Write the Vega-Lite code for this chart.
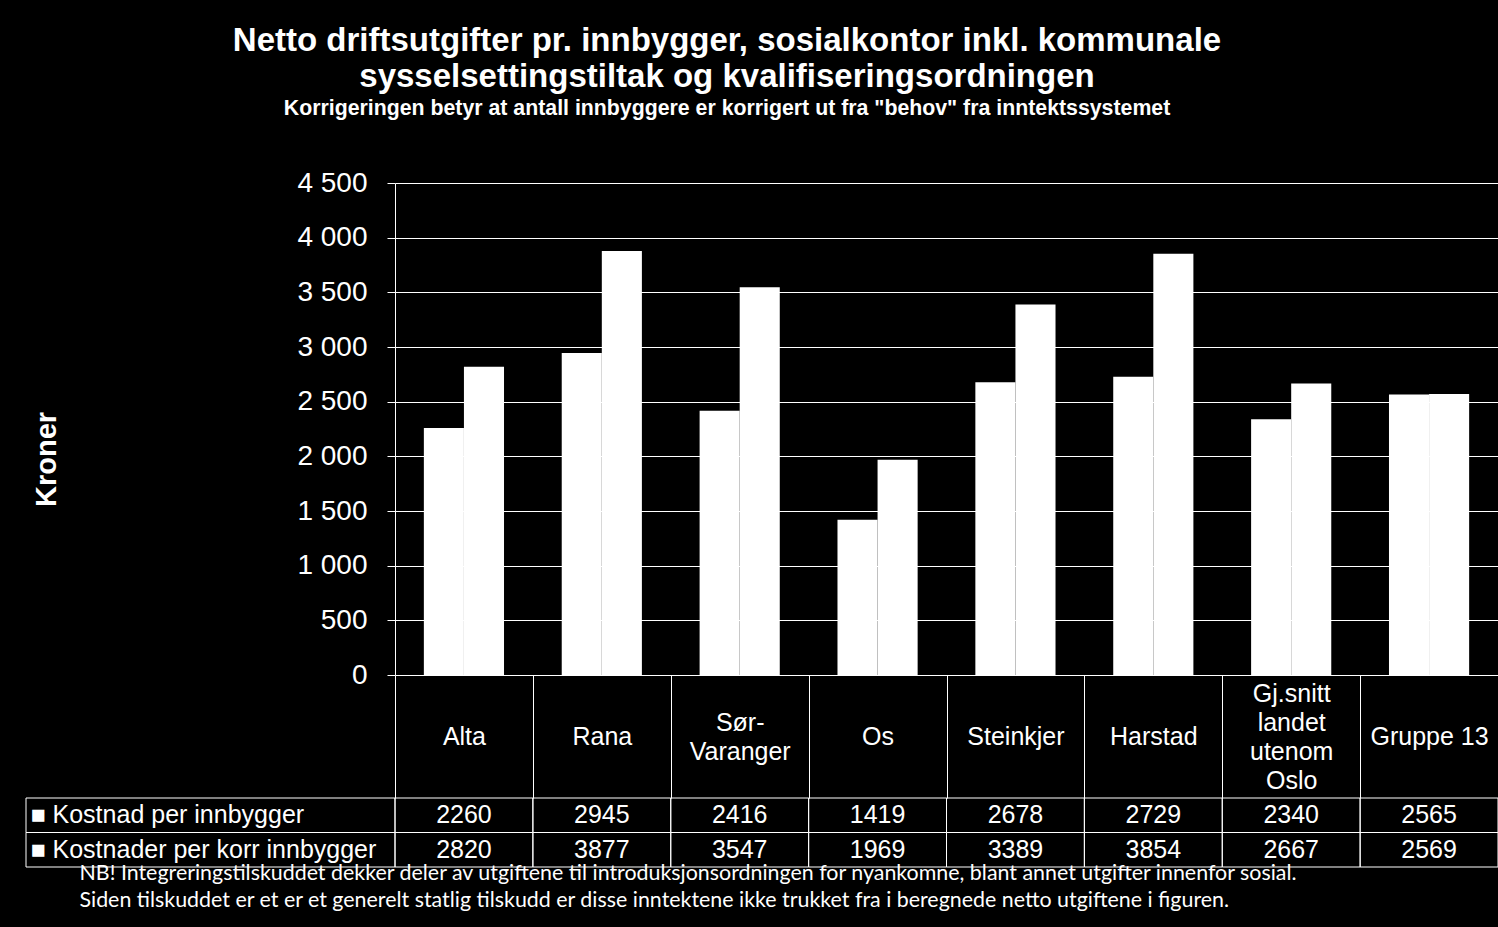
{
  "$schema": "https://vega.github.io/schema/vega-lite/v6.json",
  "background": "black",
  "padding": {"left": 25, "top": 24, "right": 0, "bottom": 18},
  "title": {
    "text": ["Netto driftsutgifter pr. innbygger, sosialkontor inkl. kommunale", "sysselsettingstiltak og kvalifiseringsordningen"],
    "subtitle": "Korrigeringen betyr at antall innbyggere er korrigert ut fra \"behov\" fra inntektssystemet",
    "color": "white",
    "subtitleColor": "white",
    "font": "Liberation Sans",
    "subtitleFont": "Liberation Sans",
    "fontSize": 33,
    "lineHeight": 36,
    "fontWeight": "bold",
    "subtitleFontSize": 21.3,
    "subtitleFontWeight": "bold",
    "subtitlePadding": 4,
    "anchor": "middle",
    "dx": -35,
    "offset": 50
  },
  "data": {
    "values": [
      {"kommune": "Alta", "serie": "Kostnad per innbygger", "verdi": 2260},
      {"kommune": "Rana", "serie": "Kostnad per innbygger", "verdi": 2945},
      {"kommune": "Sør-Varanger", "serie": "Kostnad per innbygger", "verdi": 2416},
      {"kommune": "Os", "serie": "Kostnad per innbygger", "verdi": 1419},
      {"kommune": "Steinkjer", "serie": "Kostnad per innbygger", "verdi": 2678},
      {"kommune": "Harstad", "serie": "Kostnad per innbygger", "verdi": 2729},
      {"kommune": "Gj.snitt landet utenom Oslo", "serie": "Kostnad per innbygger", "verdi": 2340},
      {"kommune": "Gruppe 13", "serie": "Kostnad per innbygger", "verdi": 2565},
      {"kommune": "Alta", "serie": "Kostnader per  korr innbygger", "verdi": 2820},
      {"kommune": "Rana", "serie": "Kostnader per  korr innbygger", "verdi": 3877},
      {"kommune": "Sør-Varanger", "serie": "Kostnader per  korr innbygger", "verdi": 3547},
      {"kommune": "Os", "serie": "Kostnader per  korr innbygger", "verdi": 1969},
      {"kommune": "Steinkjer", "serie": "Kostnader per  korr innbygger", "verdi": 3389},
      {"kommune": "Harstad", "serie": "Kostnader per  korr innbygger", "verdi": 3854},
      {"kommune": "Gj.snitt landet utenom Oslo", "serie": "Kostnader per  korr innbygger", "verdi": 2667},
      {"kommune": "Gruppe 13", "serie": "Kostnader per  korr innbygger", "verdi": 2569}
    ]
  },
  "columns": 2,
  "bounds": "flush",
  "spacing": {"row": 123, "column": 0},
  "concat": [
    {
      "width": 369,
      "height": 492,
      "data": {"values": []},
      "mark": "point"
    },
    {
      "width": 1103,
      "height": 492,
      "mark": {"type": "bar", "color": "white"},
      "encoding": {
        "x": {
          "field": "kommune", "type": "nominal", "sort": null,
          "scale": {"paddingInner": 0, "paddingOuter": 0},
          "axis": {
            "title": null, "tickBand": "extent", "tickSize": 123, "tickColor": "white", "tickWidth": 1,
            "domainColor": "white", "domainWidth": 1, "labelAngle": 0, "labelBaseline": "middle",
            "labelPadding": -105, "labelFontSize": 25, "labelColor": "white", "labelLineHeight": 14.5,
            "labelLimit": 0, "labelFont": "Liberation Sans",
            "labelExpr": "datum.label == 'Sør-Varanger' ? ['\u2800', '\u2800', 'Sør-', '\u2800', 'Varanger'] : datum.label == 'Gj.snitt landet utenom Oslo' ? ['Gj.snitt', '\u2800', 'landet', '\u2800', 'utenom', '\u2800', 'Oslo'] : ['\u2800', '\u2800', '\u2800', datum.label]"
          }
        },
        "xOffset": {
          "field": "serie", "type": "nominal", "sort": null,
          "scale": {"paddingInner": 0, "paddingOuter": 0.72}
        },
        "y": {
          "field": "verdi", "type": "quantitative",
          "scale": {"domain": [0, 4500], "nice": false},
          "axis": {
            "values": [0, 500, 1000, 1500, 2000, 2500, 3000, 3500, 4000, 4500],
            "labelExpr": "replace(format(datum.value, ','), ',', ' ')",
            "grid": true, "gridColor": "white", "gridOpacity": 1, "gridWidth": 1,
            "tickSize": 8, "tickColor": "white", "domainColor": "white",
            "labelPadding": 20, "labelFontSize": 28, "labelColor": "white", "labelFont": "Liberation Sans",
            "title": "Kroner", "titleX": -349, "titleY": 276, "titleAngle": 270,
            "titleAlign": "center", "titleBaseline": "middle", "titleFontSize": 29,
            "titleFontWeight": "bold", "titleColor": "white", "titleFont": "Liberation Sans"
          }
        }
      }
    },
    {
      "width": 369,
      "height": 69,
      "transform": [{"filter": "datum.kommune === 'Alta'"}],
      "mark": {"type": "rect", "fillOpacity": 0, "stroke": "white", "strokeWidth": 1},
      "encoding": {
        "y": {
          "field": "serie", "type": "nominal", "sort": null,
          "scale": {"paddingInner": 0, "paddingOuter": 0},
          "axis": {
            "title": null, "domain": false, "ticks": false, "tickSize": 0,
            "labelAlign": "left", "labelPadding": -4, "labelFontSize": 25, "labelColor": "white",
            "labelFont": "Liberation Sans", "labelLimit": 0, "zindex": 1,
            "labelExpr": "'■ ' + datum.label"
          }
        },
        "x": {"value": 0},
        "x2": {"value": "width"}
      }
    },
    {
      "width": 1103,
      "height": 69,
      "encoding": {
        "x": {
          "field": "kommune", "type": "nominal", "sort": null,
          "scale": {"paddingInner": 0, "paddingOuter": 0},
          "axis": {
            "labels": false, "ticks": false, "domain": false,
            "title": ["NB! Integreringstilskuddet dekker deler av utgiftene til introduksjonsordningen for nyankomne, blant annet utgifter innenfor sosial.", "\u00a0Siden tilskuddet er et  er et generelt statlig tilskudd er disse  inntektene ikke trukket fra i beregnede netto utgiftene i figuren."],
            "titleX": -316, "titleY": -5, "titleAlign": "left", "titleBaseline": "top",
            "titleFont": "Lato", "titleFontSize": 21.4, "titleFontWeight": "normal",
            "titleColor": "white", "titleLineHeight": 27, "titleAngle": 0
          }
        },
        "y": {
          "field": "serie", "type": "nominal", "sort": null,
          "scale": {"paddingInner": 0, "paddingOuter": 0},
          "axis": null
        }
      },
      "layer": [
        {"mark": {"type": "rect", "fillOpacity": 0, "stroke": "white", "strokeWidth": 1}},
        {
          "mark": {"type": "text", "color": "white", "fontSize": 25, "baseline": "middle", "font": "Liberation Sans"},
          "encoding": {"text": {"field": "verdi", "type": "quantitative", "format": "d"}}
        }
      ]
    }
  ],
  "config": {
    "view": {"stroke": null},
    "font": "Liberation Sans"
  }
}
